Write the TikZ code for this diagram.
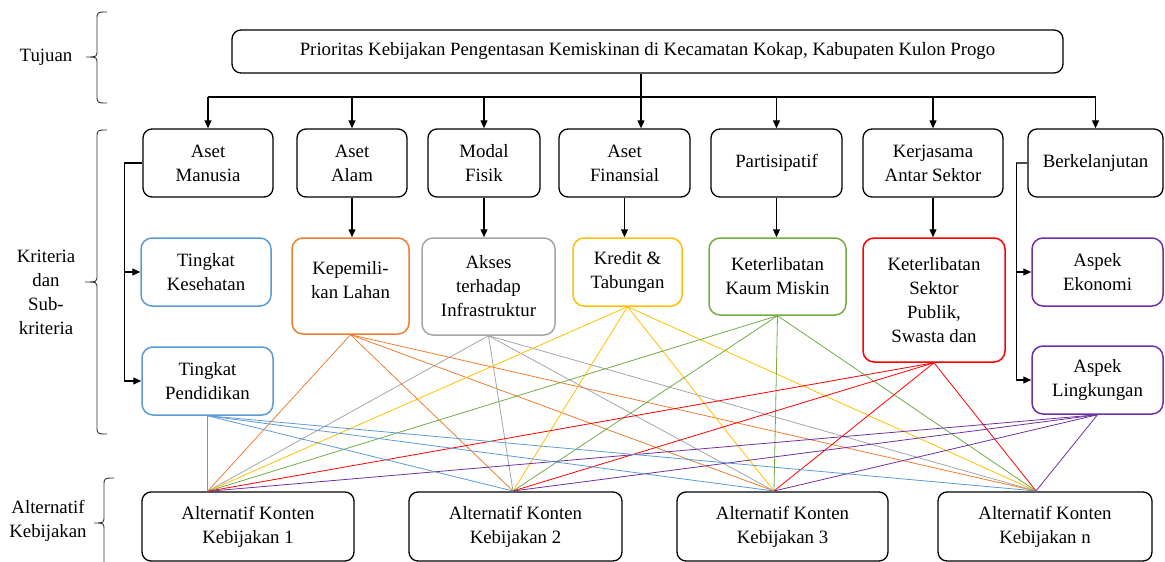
\documentclass[tikz,border=0pt]{standalone}
\usepackage{fontspec}
\setmainfont{Liberation Serif}
\usetikzlibrary{arrows.meta,calc}
\definecolor{cblue}{HTML}{5B9BD5}
\definecolor{corange}{HTML}{ED7D31}
\definecolor{cgray}{HTML}{A5A5A5}
\definecolor{cgold}{HTML}{FFC000}
\definecolor{cgreen}{HTML}{70AD47}
\definecolor{cred}{HTML}{FF0000}
\definecolor{cpurple}{HTML}{7030A0}
\begin{document}
\begin{tikzpicture}[x=1pt,y=-1pt,
  font=\fontsize{18.8}{24}\selectfont,
  box/.style={draw, rounded corners=9pt, line width=1.3pt, align=center, inner sep=0pt},
  sub/.style={box, rounded corners=11pt, line width=1.5pt},
  arr/.style={-{Triangle[length=8pt,width=7pt]}, line width=1.1pt},
  link/.style={line width=0.8pt},
  bracestyle/.style={line width=0.9pt, black!80}]
\useasboundingbox (0,0) rectangle (1165,562);

% goal
\node[box, minimum width=831pt, minimum height=43pt] (goal) at (647.5,51.5)
  {Prioritas Kebijakan Pengentasan Kemiskinan di Kecamatan Kokap, Kabupaten Kulon Progo};

% criteria
\node[box, minimum width=130pt, minimum height=68pt] (am) at (208,163) {Aset\\Manusia};
\node[box, minimum width=110pt, minimum height=68pt] (aa) at (352,163) {Aset\\Alam};
\node[box, minimum width=112pt, minimum height=68pt] (mf) at (484,163) {Modal\\Fisik};
\node[box, minimum width=131pt, minimum height=68pt] (af) at (624.5,163) {Aset\\Finansial};
\node[box, minimum width=131pt, minimum height=68pt] (pa) at (776.5,163) {Partisipatif};
\node[box, minimum width=140pt, minimum height=68pt] (ka) at (933,163) {Kerjasama\\Antar Sektor};
\node[box, minimum width=135pt, minimum height=68pt] (be) at (1095.5,163) {Berkelanjutan};

% sub-criteria
\node[sub, draw=cblue, minimum width=130pt, minimum height=68pt] (tk) at (206,272) {Tingkat\\Kesehatan};
\node[sub, draw=cblue, minimum width=131pt, minimum height=68pt] (tp) at (207.5,381) {Tingkat\\Pendidikan};
\node[sub, draw=corange, minimum width=117pt, minimum height=96pt] (kl) at (350.5,286) {Kepemili-\\kan Lahan\\[-12pt]\mbox{}};
\node[sub, draw=cgray, minimum width=133pt, minimum height=97pt] (ai) at (488.5,286.5) {Akses\\terhadap\\Infrastruktur};
\node[sub, draw=cgold, minimum width=109pt, minimum height=68pt] (kt) at (627.5,272) {Kredit \&\\Tabungan};
\node[sub, draw=cgreen, minimum width=137pt, minimum height=77pt] (kk) at (777.5,276.5) {Keterlibatan\\Kaum Miskin};
\node[sub, draw=cred, minimum width=142pt, minimum height=124pt] (ks) at (934,300) {Keterlibatan\\Sektor\\Publik,\\Swasta dan};
\node[sub, draw=cpurple, minimum width=131pt, minimum height=68pt] (ae) at (1097.5,272) {Aspek\\Ekonomi};
\node[sub, draw=cpurple, minimum width=131pt, minimum height=68pt] (al) at (1097.5,380) {Aspek\\Lingkungan};

% alternatives
\node[box, minimum width=212pt, minimum height=69pt] (a1) at (248,526.5) {Alternatif Konten\\Kebijakan 1};
\node[box, minimum width=213pt, minimum height=69pt] (a2) at (515.5,526.5) {Alternatif Konten\\Kebijakan 2};
\node[box, minimum width=211pt, minimum height=69pt] (a3) at (782.5,526.5) {Alternatif Konten\\Kebijakan 3};
\node[box, minimum width=214pt, minimum height=69pt] (an) at (1045,526.5) {Alternatif Konten\\Kebijakan n};

% convergence points
\coordinate (c1) at (a1.north -| tp.south);
\coordinate (c2) at (513,491);
\coordinate (c3) at (774,491);
\coordinate (cn) at (1036,491);

% links
\foreach \s/\c in {kl/corange,ai/cgray,kt/cgold,kk/cgreen,ks/cred,al/cpurple,tp/cblue}
  \foreach \t in {c1,c2,c3,cn}
    \draw[link,\c] (\s.south) -- (\t);

% top tree
\coordinate (hub) at (641,97);
\draw[line width=1.1pt] (goal.south -| hub) -- (hub);
\draw[line width=1.1pt] (hub -| am.north) -- (hub -| be.north);
\foreach \n in {am,aa,mf,pa,ka,be}
  \draw[arr] (hub -| \n.north) -- (\n.north);
\draw[arr] (hub) -- (hub |- af.north);

% criteria to sub-criteria
\draw[arr] (aa.south) -- (aa.south |- kl.north);
\draw[arr] (mf.south) -- (mf.south |- ai.north);
\draw[arr] (af.south) -- (af.south |- kt.north);
\draw[arr] (pa.south) -- (pa.south |- kk.north);
\draw[arr] (ka.south) -- (ka.south |- ks.north);

% side brackets
\draw[line width=1.1pt] (am.west) -- ++(-18,0) coordinate (lb);
\draw[arr] (lb) |- (tk.west);
\draw[arr] (lb) |- (tp.west);
\draw[line width=1.1pt, black!70] (be.west) -- ++(-11,0) coordinate (rb);
\draw[arr] (rb) |- (ae.west);
\draw[arr] (rb) |- (al.west);

% braces
\draw[bracestyle] (107,12) .. controls (97,12) .. (97,20) -- (97,50)
  .. controls (97,57) .. (86,57) .. controls (97,57) .. (97,64) -- (97,95)
  .. controls (97,103) .. (107,103);
\draw[bracestyle] (107,130) .. controls (97,130) .. (97,138) -- (97,275)
  .. controls (97,282) .. (85,282) .. controls (97,282) .. (97,289) -- (97,426)
  .. controls (97,434) .. (107,434);
\draw[bracestyle] (114,478) .. controls (104,478) .. (104,486) -- (104,516)
  .. controls (104,523) .. (94,523) .. controls (104,523) .. (104,530) -- (104,562);

% labels
\node (lt) at (46,57) {Tujuan};
\node[align=center] (lk) at (46,292) {Kriteria\\dan\\Sub-\\kriteria};
\node[align=center] (la) at (48,521) {Alternatif\\Kebijakan};
\end{tikzpicture}
\end{document}
